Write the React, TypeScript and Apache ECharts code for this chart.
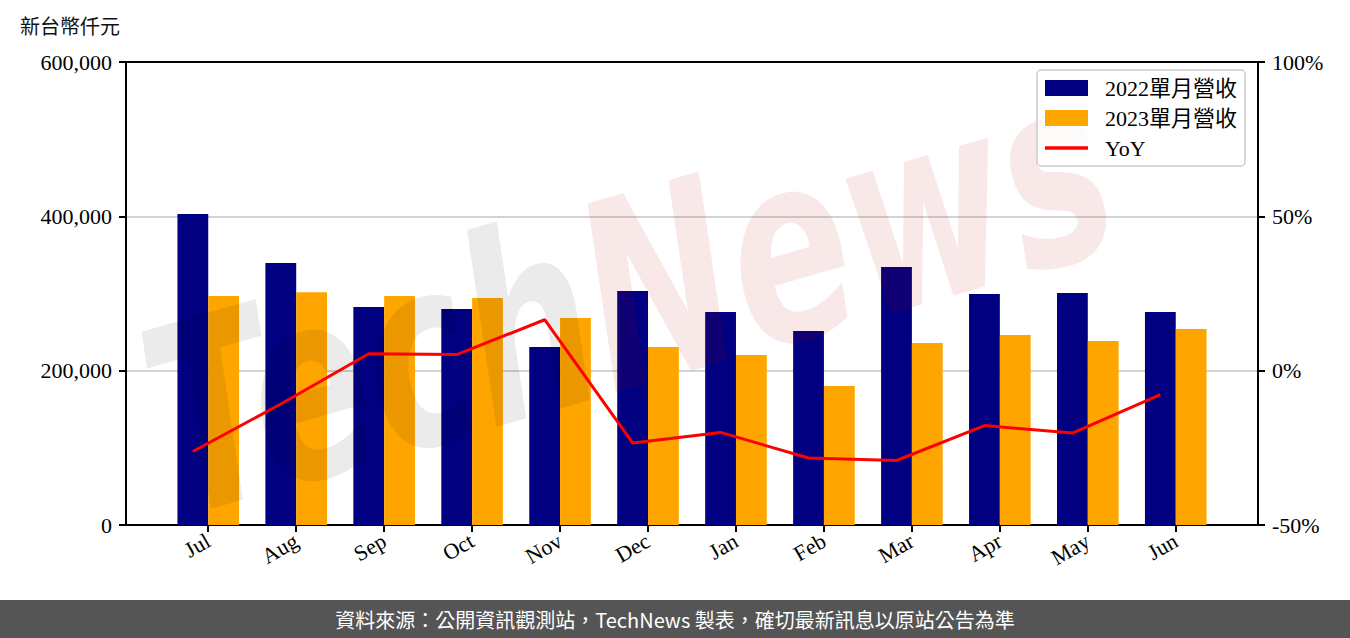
import React, { useEffect, useRef } from "react";
import * as echarts from "echarts";

const months = ["Jul", "Aug", "Sep", "Oct", "Nov", "Dec", "Jan", "Feb", "Mar", "Apr", "May", "Jun"];
const rev2022 = [403000, 339500, 282500, 280000, 230700, 303300, 276000, 251400, 334400, 299400, 300700, 276000];
const rev2023 = [296800, 301600, 296800, 294200, 268300, 230700, 220300, 180100, 235900, 246200, 238500, 254000];
const yoy = [-26.2, -10.8, 5.5, 5.2, 16.5, -23.4, -20.0, -28.3, -29.1, -17.8, -20.2, -7.8];
const leftTicks = [0, 200000, 400000, 600000];
const rightTicks = [-50, 0, 50, 100];
const seriesNames = ["2022單月營收", "2023單月營收", "YoY"];

const SERIF = "'Liberation Serif', 'Noto Sans CJK TC', serif";
const SANS = "'Noto Sans CJK TC', 'Noto Sans', sans-serif";

export default function App() {
  const ref = useRef<HTMLDivElement>(null);
  useEffect(() => {
    if (!ref.current) return;
    const chart = echarts.init(ref.current, undefined, { renderer: "svg" });
    const idx = months.map((_, i) => i);
    chart.setOption({
      animation: false,
      grid: {
        left: 126,
        right: 92,
        top: 62,
        bottom: 113,
        show: true,
        borderColor: "#000",
        borderWidth: 2,
        backgroundColor: "transparent",
      },
      legend: {
        orient: "vertical",
        left: 1037,
        top: 70,
        padding: [7, 8, 7, 8],
        itemGap: 8,
        itemWidth: 43,
        itemHeight: 16,
        symbolKeepAspect: true,
        backgroundColor: "rgba(255,255,255,0.8)",
        borderColor: "#cccccc",
        borderWidth: 1.5,
        borderRadius: 4,
        z: 6,
        textStyle: { fontSize: 22, fontFamily: SERIF, color: "#000", padding: [0, 0, 0, 12] },
        data: [
          { name: seriesNames[0], icon: "rect" },
          { name: seriesNames[1], icon: "rect" },
          { name: seriesNames[2], icon: "path://M0,0L43,0L43,3.5L0,3.5Z", itemStyle: { color: "#ff0000" } },
        ],
      },
      xAxis: {
        type: "value",
        min: -0.935,
        max: 11.935,
        axisLine: { show: true, onZero: false, lineStyle: { color: "#000", width: 2 } },
        axisTick: { show: true, customValues: idx, length: 7, lineStyle: { color: "#000", width: 2 } },
        axisLabel: {
          customValues: idx,
          formatter: (v: number) => months[Math.round(v)] ?? "",
          rotate: 30,
          margin: 14,
          fontSize: 22,
          fontFamily: SERIF,
          color: "#000",
        },
        splitLine: { show: false },
      },
      yAxis: [
        {
          type: "value",
          position: "left",
          min: leftTicks[0],
          max: leftTicks[leftTicks.length - 1],
          interval: leftTicks[1] - leftTicks[0],
          axisLine: { show: true, onZero: false, lineStyle: { color: "#000", width: 2 } },
          axisTick: { show: true, length: 7, lineStyle: { color: "#000", width: 2 } },
          axisLabel: {
            formatter: (v: number) => v.toLocaleString("en-US"),
            margin: 14,
            fontSize: 22,
            fontFamily: SERIF,
            color: "#000",
          },
          splitLine: {
            show: true,
            showMinLine: false,
            showMaxLine: false,
            lineStyle: { color: "#d3d3d3", width: 2 },
          },
        },
        {
          type: "value",
          position: "right",
          min: rightTicks[0],
          max: rightTicks[rightTicks.length - 1],
          interval: rightTicks[1] - rightTicks[0],
          axisLine: { show: true, onZero: false, lineStyle: { color: "#000", width: 2 } },
          axisTick: { show: true, length: 7, lineStyle: { color: "#000", width: 2 } },
          axisLabel: {
            formatter: (v: number) => `${v}%`,
            margin: 14,
            fontSize: 22,
            fontFamily: SERIF,
            color: "#000",
          },
          splitLine: { show: false },
        },
      ],
      series: [
        {
          name: seriesNames[0],
          type: "bar",
          data: rev2022.map((v, i) => [i, v]),
          barWidth: 30.8,
          barGap: "0%",
          itemStyle: { color: "#000080" },
          z: 2,
        },
        {
          name: seriesNames[1],
          type: "bar",
          data: rev2023.map((v, i) => [i, v]),
          barWidth: 30.8,
          barGap: "0%",
          itemStyle: { color: "#FFA500" },
          z: 2,
        },
        {
          name: seriesNames[2],
          type: "line",
          yAxisIndex: 1,
          data: yoy.map((v, i) => [i - 0.175, v]),
          symbol: "none",
          color: "#ff0000",
          lineStyle: { color: "#ff0000", width: 3 },
          z: 5,
        },
      ],
      graphic: [
        {
          type: "text",
          left: 20,
          top: 15,
          style: { text: "新台幣仟元", fontSize: 20, fontFamily: SANS, fill: "#111" },
        },
        {
          type: "text",
          x: 192,
          y: 556,
          rotation: 0.28,
          scaleX: 0.68,
          z: 3,
          silent: true,
          style: {
            text: "{a|Tech}{b|News}",
            verticalAlign: "bottom",
            rich: {
              a: { fill: "rgba(0,0,0,0.08)", fontSize: 260, fontFamily: "DejaVu Sans", fontWeight: "bold", fontStyle: "italic" },
              b: { fill: "rgba(175,0,0,0.09)", fontSize: 260, fontFamily: "DejaVu Sans", fontWeight: "bold", fontStyle: "italic" },
            },
          },
        },
        {
          type: "rect",
          left: 0,
          top: 600,
          shape: { width: 1350, height: 38 },
          style: { fill: "#555555" },
          z: 10,
        },
        {
          type: "text",
          x: 675,
          y: 619,
          z: 11,
          style: {
            text: "資料來源：公開資訊觀測站，TechNews 製表，確切最新訊息以原站公告為準",
            fontSize: 20,
            fontFamily: SANS,
            fill: "#ffffff",
            align: "center",
            verticalAlign: "middle",
          },
        },
      ],
    });
    return () => chart.dispose();
  }, []);
  return (
    <div
      ref={ref}
      style={{ position: "absolute", left: 0, top: 0, width: 1350, height: 638, background: "#fff" }}
    />
  );
}
